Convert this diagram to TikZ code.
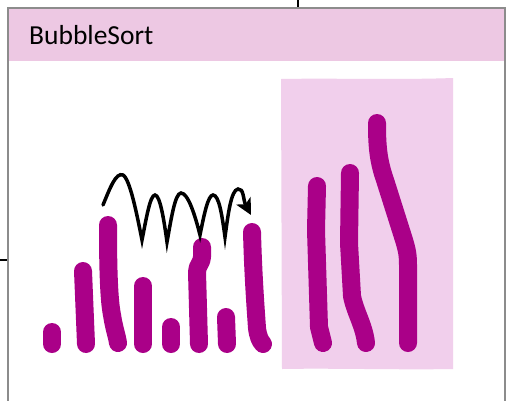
\documentclass[tikz,border=0pt]{standalone}
\usepackage{fontspec}
\setmainfont{Carlito}
\usetikzlibrary{arrows.meta}
\definecolor{bar}{HTML}{AA0088}
\definecolor{hdr}{HTML}{EDC8E3}
\definecolor{sorted}{HTML}{F1CFEC}
\definecolor{frm}{HTML}{8C8C8C}
\tikzset{
  barline/.style={draw=bar, line width=18pt, line cap=round, line join=round},
  wave/.style={draw=black, line width=3.5pt, line cap=round, line join=miter, -{Stealth[length=16pt,width=16pt,inset=4pt]}}
}
\begin{document}
\begin{tikzpicture}[x=1pt,y=-1pt]
\useasboundingbox (0,0) rectangle (508,400);
% connector stubs
\draw[black, line width=2pt] (298,0) -- (298,8);
\draw[black, line width=2pt] (0,260) -- (8,260);
% frame
\fill[white] (8,8) rectangle (505,410);
\fill[hdr] (8,8) rectangle (505,61);
\draw[frm, line width=2pt] (8,410) -- (8,8) -- (505,8) -- (505,410);
\node[anchor=base west, inner sep=0pt, font=\fontsize{27.5}{30}\selectfont] (title) at (29,44) {BubbleSort};
% sorted area
\fill[sorted] (281,79) .. controls (330,78) and (400,80) .. (453,78) -- (453,369) .. controls (400,370) and (330,368) .. (282,369) -- cycle;
% unsorted bars
\draw[barline] (52,332) -- (52,344);
\draw[barline] (83,271) -- (86,344);
\draw[barline] (108,225) .. controls (108,270) and (109,300) .. (112,315) .. controls (114,328) and (117,336) .. (118,343);
\draw[barline] (143,286) -- (143,344);
\draw[barline] (171,327) -- (171,344);
\draw[barline] (202,247) -- (202,257) .. controls (202,263) and (197,265) .. (197,272) -- (199,344);
\draw[barline] (226,317) -- (227,344);
\draw[barline] (252,232) .. controls (253,270) and (255,300) .. (257,328) .. controls (258,336) and (260,341) .. (263,344);
% sorted bars
\draw[barline] (317,186) -- (316,230) -- (319,327) -- (323,343);
\draw[barline] (350,173) -- (349,243) -- (352,296) .. controls (355,312) and (364,325) .. (366,343);
\draw[barline] (377,123) .. controls (377,145) and (378,160) .. (385,180) -- (404,240) .. controls (407,250) and (408,255) .. (408,265) -- (408,343);
% swap arrow
\draw[wave] (103,205) .. controls (110,188) and (116,172) .. (123,175)
  .. controls (130,179) and (137,215) .. (142,240)
  .. controls (146,220) and (150,195) .. (155,195)
  .. controls (160,195) and (164,220) .. (167,242)
  .. controls (171,220) and (175,193) .. (181,193)
  .. controls (188,193) and (195,215) .. (200,235)
  .. controls (204,215) and (208,195) .. (213,195)
  .. controls (219,195) and (222,215) .. (225,237)
  .. controls (228,215) and (231,190) .. (238,189)
  .. controls (244,188) and (243,200) .. (251,215);
\end{tikzpicture}
\end{document}
